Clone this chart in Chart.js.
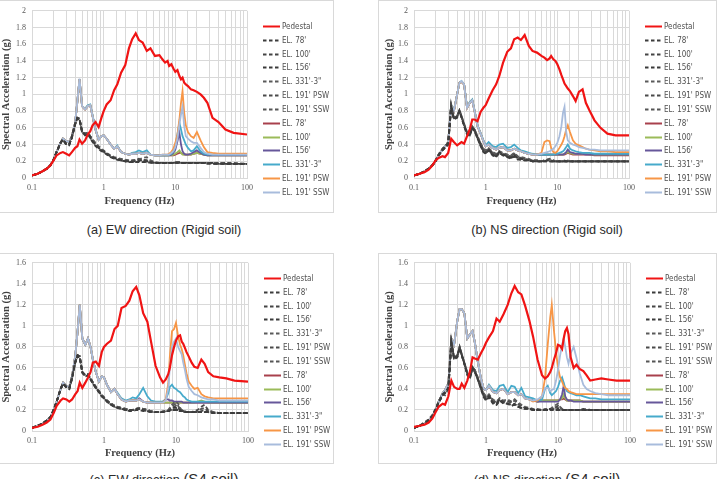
<!DOCTYPE html>
<html><head><meta charset="utf-8">
<script src="https://cdn.jsdelivr.net/npm/chart.js@4.4.1/dist/chart.umd.min.js"></script>
<style>
html,body{margin:0;padding:0;background:#fff}
body{width:721px;height:479px;overflow:hidden;position:relative;font-family:"Liberation Sans",Arial,sans-serif}
.box{position:absolute;border:1px solid #d9d9d9;box-sizing:border-box}
canvas{position:absolute}
.cap{position:absolute;width:320px;text-align:center;font-size:12.7px;line-height:16px;color:#2b2b2b;white-space:nowrap}
.cap span{font-size:15px}
</style></head><body>
<div class="box" style="left:-1px;top:0;width:335px;height:213px"></div>
<div class="box" style="left:378px;top:0;width:339px;height:213px"></div>
<div class="box" style="left:-1px;top:253px;width:335px;height:211px"></div>
<div class="box" style="left:378px;top:253px;width:339px;height:211px"></div>
<canvas id="cA" width="333" height="215" style="left:0;top:0;width:333px;height:215px"></canvas>
<canvas id="cB" width="338" height="215" style="left:378px;top:0;width:338px;height:215px"></canvas>
<canvas id="cC" width="333" height="215" style="left:0;top:252px;width:333px;height:215px"></canvas>
<canvas id="cD" width="338" height="215" style="left:378px;top:252px;width:338px;height:215px"></canvas>
<div class="cap" style="left:4px;top:222px">(a) EW direction (Rigid soil)</div>
<div class="cap" style="left:387px;top:222px">(b) NS direction (Rigid soil)</div>
<div class="cap" style="left:4px;top:471px">(c) EW direction <span>(S4 soil)</span></div>
<div class="cap" style="left:387px;top:471px">(d) NS direction <span>(S4 soil)</span></div>
<script>
// ---------- DATA ----------
const FREQ = [
0.1,0.12,0.14,0.16,0.18,0.2,0.22,0.25,
0.27,0.3,0.33,0.36,0.4,0.43,0.46,0.5,
0.55,0.6,0.65,0.7,0.77,0.85,0.93,1,
1.1,1.25,1.4,1.55,1.75,2,2.25,2.5,
2.8,3.1,3.5,4,4.5,5.2,6,6.6,
7.2,7.8,8.2,8.8,9.4,10,10.7,11.4,
12,12.6,13.3,14,15,16.5,18,20,
22.5,25,28,33,40,50,65,100];

const SERIES_LABELS = ["Pedestal","EL. 78'","EL. 100'","EL. 156'","EL. 331'-3\"","EL. 191' PSW","EL. 191' SSW","EL. 78'","EL. 100'","EL. 156'","EL. 331'-3\"","EL. 191' PSW","EL. 191' SSW"];
const X_TICK_VALUES = [0.1,1,10,100];
const X_TICK_LABELS = ["0.1","1","10","100"];
const Y_TICKS_RIGID = ["0","0.2","0.4","0.6","0.8","1","1.2","1.4","1.6","1.8","2"];
const Y_TICKS_S4 = ["0","0.2","0.4","0.6","0.8","1","1.2","1.4","1.6"];
const X_TITLE = "Frequency (Hz)";
const Y_TITLE = "Spectral Acceleration (g)";

// ----- (a) EW Rigid -----
const A_PED = [
0.03,0.05,0.08,0.11,0.15,0.21,0.27,0.30,
0.31,0.29,0.27,0.31,0.36,0.38,0.46,0.41,
0.45,0.52,0.56,0.63,0.67,0.61,0.72,0.80,
0.88,0.93,1.05,1.12,1.26,1.35,1.55,1.66,
1.73,1.65,1.62,1.52,1.55,1.46,1.47,1.42,
1.38,1.40,1.34,1.36,1.31,1.27,1.29,1.22,
1.18,1.20,1.14,1.12,1.10,1.06,1.05,1.03,
1.00,0.96,0.90,0.72,0.67,0.58,0.54,0.52];
const A_D78 = [
0.03,0.05,0.08,0.11,0.15,0.22,0.31,0.42,
0.46,0.40,0.39,0.48,0.64,0.72,0.70,0.55,
0.52,0.53,0.48,0.43,0.38,0.35,0.32,0.31,
0.28,0.25,0.23,0.22,0.21,0.20,0.19,0.19,
0.19,0.19,0.19,0.19,0.18,0.18,0.18,0.18,
0.18,0.18,0.18,0.18,0.18,0.18,0.18,0.18,
0.18,0.18,0.18,0.18,0.18,0.18,0.18,0.18,
0.18,0.18,0.17,0.17,0.17,0.17,0.17,0.17];
const A_D100 = [
0.03,0.05,0.08,0.11,0.15,0.22,0.31,0.42,
0.46,0.41,0.40,0.49,0.65,0.72,0.71,0.54,
0.52,0.53,0.49,0.44,0.39,0.36,0.33,0.31,
0.29,0.26,0.23,0.22,0.21,0.20,0.20,0.19,
0.19,0.20,0.20,0.19,0.19,0.18,0.18,0.18,
0.18,0.18,0.18,0.18,0.18,0.18,0.18,0.18,
0.18,0.18,0.18,0.18,0.18,0.18,0.18,0.18,
0.18,0.18,0.18,0.17,0.17,0.17,0.17,0.17];
const A_D156 = [
0.03,0.05,0.08,0.11,0.15,0.22,0.31,0.42,
0.46,0.40,0.40,0.48,0.64,0.71,0.70,0.55,
0.51,0.52,0.48,0.44,0.40,0.36,0.33,0.32,
0.29,0.26,0.24,0.23,0.21,0.20,0.20,0.20,
0.20,0.21,0.21,0.20,0.19,0.18,0.18,0.18,
0.18,0.18,0.18,0.18,0.18,0.18,0.18,0.18,
0.18,0.18,0.18,0.18,0.18,0.18,0.18,0.18,
0.18,0.18,0.18,0.18,0.17,0.17,0.17,0.17];
const A_D331 = [
0.03,0.05,0.08,0.11,0.15,0.22,0.31,0.42,
0.46,0.41,0.40,0.49,0.65,0.72,0.71,0.56,
0.53,0.54,0.50,0.46,0.42,0.38,0.35,0.33,
0.30,0.27,0.25,0.24,0.23,0.22,0.21,0.21,
0.21,0.22,0.24,0.25,0.21,0.19,0.18,0.18,
0.18,0.18,0.18,0.18,0.19,0.19,0.19,0.19,
0.18,0.18,0.18,0.18,0.18,0.18,0.18,0.18,
0.18,0.18,0.18,0.18,0.18,0.17,0.17,0.17];
const A_DPSW = [
0.03,0.05,0.08,0.11,0.15,0.22,0.31,0.42,
0.46,0.41,0.40,0.49,0.65,0.72,0.71,0.56,
0.53,0.54,0.50,0.46,0.41,0.37,0.34,0.32,
0.29,0.26,0.24,0.23,0.22,0.21,0.21,0.21,
0.22,0.23,0.22,0.21,0.19,0.18,0.18,0.18,
0.18,0.18,0.18,0.18,0.18,0.19,0.19,0.19,
0.18,0.18,0.18,0.18,0.18,0.18,0.18,0.18,
0.18,0.18,0.18,0.18,0.18,0.18,0.17,0.17];
const A_DSSW = [
0.03,0.05,0.08,0.11,0.15,0.22,0.31,0.42,
0.46,0.41,0.40,0.49,0.65,0.72,0.71,0.56,
0.53,0.54,0.50,0.45,0.41,0.37,0.34,0.32,
0.29,0.26,0.24,0.23,0.22,0.21,0.20,0.20,
0.21,0.22,0.22,0.21,0.19,0.18,0.18,0.18,
0.18,0.18,0.18,0.18,0.18,0.18,0.19,0.19,
0.18,0.18,0.18,0.18,0.18,0.18,0.18,0.18,
0.18,0.18,0.18,0.18,0.18,0.18,0.18,0.17];
const A_S78 = [
0.03,0.05,0.08,0.11,0.15,0.22,0.31,0.42,
0.47,0.44,0.43,0.50,0.66,0.92,1.18,0.86,
0.82,0.86,0.87,0.74,0.58,0.46,0.50,0.51,
0.47,0.40,0.35,0.38,0.31,0.29,0.28,0.29,
0.29,0.30,0.29,0.30,0.28,0.27,0.27,0.27,
0.27,0.27,0.27,0.27,0.27,0.28,0.29,0.30,
0.30,0.29,0.28,0.28,0.28,0.28,0.29,0.30,
0.29,0.28,0.27,0.27,0.27,0.27,0.27,0.27];
const A_S100 = [
0.03,0.05,0.08,0.11,0.15,0.22,0.31,0.42,
0.47,0.44,0.43,0.50,0.66,0.92,1.18,0.86,
0.82,0.86,0.87,0.74,0.58,0.46,0.50,0.51,
0.47,0.40,0.35,0.38,0.31,0.29,0.28,0.29,
0.29,0.30,0.29,0.30,0.28,0.27,0.27,0.27,
0.27,0.27,0.27,0.27,0.28,0.29,0.31,0.33,
0.30,0.28,0.28,0.28,0.28,0.28,0.29,0.30,
0.29,0.28,0.27,0.27,0.27,0.27,0.27,0.27];
const A_S156 = [
0.03,0.05,0.08,0.11,0.15,0.22,0.31,0.42,
0.47,0.44,0.43,0.50,0.66,0.92,1.18,0.86,
0.82,0.86,0.87,0.74,0.58,0.46,0.50,0.51,
0.47,0.40,0.35,0.38,0.31,0.29,0.28,0.29,
0.29,0.30,0.29,0.30,0.28,0.27,0.27,0.27,
0.27,0.27,0.27,0.28,0.30,0.34,0.44,0.54,
0.40,0.32,0.29,0.28,0.28,0.29,0.31,0.33,
0.30,0.28,0.27,0.27,0.27,0.27,0.27,0.27];
const A_S331 = [
0.03,0.05,0.08,0.11,0.15,0.22,0.31,0.42,
0.47,0.44,0.43,0.50,0.66,0.92,1.18,0.86,
0.83,0.87,0.88,0.75,0.58,0.46,0.50,0.51,
0.47,0.40,0.35,0.39,0.31,0.29,0.28,0.30,
0.31,0.33,0.31,0.33,0.28,0.27,0.27,0.27,
0.27,0.27,0.28,0.29,0.32,0.38,0.52,0.66,
0.58,0.50,0.45,0.40,0.36,0.32,0.33,0.38,
0.32,0.29,0.28,0.28,0.28,0.28,0.28,0.28];
const A_SPSW = [
0.03,0.05,0.08,0.11,0.15,0.22,0.31,0.42,
0.47,0.44,0.43,0.50,0.66,0.92,1.18,0.86,
0.82,0.86,0.87,0.74,0.58,0.46,0.50,0.51,
0.47,0.40,0.35,0.38,0.31,0.29,0.28,0.29,
0.29,0.30,0.29,0.30,0.28,0.27,0.27,0.28,
0.28,0.28,0.29,0.31,0.35,0.42,0.52,0.70,
0.90,1.04,0.78,0.63,0.55,0.50,0.48,0.55,
0.45,0.37,0.31,0.30,0.29,0.29,0.29,0.29];
const A_SSSW = [
0.03,0.05,0.08,0.11,0.15,0.22,0.31,0.42,
0.47,0.44,0.43,0.50,0.66,0.92,1.19,0.86,
0.82,0.86,0.87,0.74,0.58,0.46,0.50,0.51,
0.47,0.40,0.35,0.38,0.31,0.29,0.28,0.29,
0.29,0.30,0.29,0.30,0.28,0.27,0.27,0.28,
0.28,0.28,0.28,0.30,0.32,0.37,0.47,0.64,
0.76,0.85,0.62,0.50,0.47,0.44,0.42,0.42,
0.36,0.31,0.29,0.28,0.28,0.28,0.28,0.28];

// ----- (b) NS Rigid -----
const B_PED = [
0.03,0.05,0.07,0.10,0.15,0.21,0.24,0.26,
0.25,0.30,0.47,0.43,0.39,0.41,0.43,0.41,
0.50,0.58,0.70,0.70,0.68,0.79,0.84,0.87,
0.95,1.05,1.12,1.22,1.38,1.51,1.55,1.66,
1.68,1.65,1.71,1.58,1.52,1.50,1.46,1.44,
1.41,1.43,1.46,1.42,1.40,1.36,1.30,1.23,
1.18,1.13,1.10,1.07,1.04,0.98,0.92,1.03,
1.06,0.90,0.81,0.69,0.60,0.53,0.51,0.51];
const B_D78 = [
0.03,0.05,0.08,0.11,0.15,0.20,0.27,0.33,
0.36,0.40,0.84,0.70,0.72,0.80,0.72,0.62,
0.52,0.50,0.60,0.56,0.47,0.38,0.31,0.29,
0.33,0.27,0.25,0.30,0.27,0.25,0.23,0.26,
0.22,0.22,0.21,0.21,0.20,0.20,0.20,0.20,
0.20,0.20,0.20,0.20,0.20,0.20,0.20,0.20,
0.20,0.20,0.20,0.20,0.20,0.20,0.20,0.20,
0.20,0.20,0.20,0.20,0.20,0.20,0.20,0.20];
const B_D100 = [
0.03,0.05,0.08,0.11,0.15,0.20,0.27,0.33,
0.36,0.40,0.84,0.71,0.73,0.80,0.73,0.63,
0.53,0.51,0.60,0.56,0.48,0.39,0.32,0.30,
0.33,0.28,0.26,0.30,0.27,0.26,0.24,0.26,
0.23,0.22,0.21,0.21,0.20,0.20,0.20,0.20,
0.20,0.20,0.20,0.20,0.20,0.20,0.20,0.20,
0.20,0.20,0.20,0.20,0.20,0.20,0.20,0.20,
0.20,0.20,0.20,0.20,0.20,0.20,0.20,0.20];
const B_D156 = [
0.03,0.05,0.08,0.11,0.15,0.20,0.27,0.34,
0.37,0.41,0.85,0.71,0.73,0.80,0.73,0.63,
0.53,0.51,0.60,0.57,0.48,0.39,0.32,0.30,
0.34,0.28,0.26,0.31,0.28,0.26,0.24,0.27,
0.23,0.23,0.22,0.21,0.20,0.20,0.20,0.20,
0.21,0.21,0.20,0.20,0.20,0.20,0.20,0.20,
0.20,0.20,0.20,0.20,0.20,0.20,0.20,0.20,
0.20,0.20,0.20,0.20,0.20,0.20,0.20,0.20];
const B_D331 = [
0.03,0.05,0.08,0.11,0.15,0.21,0.28,0.35,
0.38,0.42,0.87,0.72,0.74,0.81,0.74,0.65,
0.55,0.53,0.62,0.58,0.50,0.42,0.35,0.33,
0.36,0.31,0.29,0.32,0.30,0.28,0.27,0.30,
0.26,0.25,0.24,0.23,0.21,0.21,0.20,0.21,
0.22,0.22,0.21,0.21,0.20,0.20,0.20,0.20,
0.20,0.20,0.20,0.21,0.20,0.20,0.20,0.20,
0.20,0.20,0.20,0.20,0.20,0.20,0.20,0.20];
const B_DPSW = [
0.03,0.05,0.08,0.11,0.15,0.21,0.28,0.35,
0.38,0.42,0.86,0.72,0.74,0.81,0.74,0.64,
0.54,0.52,0.61,0.58,0.49,0.41,0.34,0.32,
0.35,0.30,0.28,0.32,0.29,0.28,0.26,0.29,
0.25,0.24,0.23,0.22,0.21,0.21,0.20,0.21,
0.22,0.23,0.22,0.21,0.20,0.20,0.20,0.20,
0.20,0.20,0.20,0.20,0.20,0.20,0.20,0.20,
0.20,0.20,0.20,0.20,0.20,0.20,0.20,0.20];
const B_DSSW = [
0.03,0.05,0.08,0.11,0.15,0.21,0.28,0.35,
0.38,0.42,0.88,0.72,0.74,0.81,0.74,0.64,
0.54,0.52,0.61,0.58,0.49,0.41,0.34,0.32,
0.35,0.30,0.28,0.31,0.29,0.27,0.26,0.29,
0.25,0.24,0.23,0.22,0.21,0.20,0.20,0.20,
0.21,0.21,0.21,0.20,0.20,0.20,0.20,0.20,
0.20,0.21,0.20,0.20,0.20,0.20,0.20,0.20,
0.20,0.20,0.20,0.20,0.20,0.20,0.20,0.20];
const B_S78 = [
0.03,0.05,0.08,0.11,0.15,0.20,0.27,0.34,
0.37,0.43,0.87,0.80,1.00,1.14,1.15,1.12,
0.84,0.90,0.93,0.80,0.62,0.53,0.44,0.38,
0.40,0.36,0.34,0.36,0.37,0.33,0.33,0.35,
0.33,0.32,0.30,0.29,0.28,0.28,0.28,0.28,
0.28,0.28,0.28,0.28,0.28,0.28,0.28,0.28,
0.28,0.28,0.29,0.30,0.29,0.28,0.28,0.28,
0.28,0.28,0.28,0.27,0.27,0.27,0.27,0.27];
const B_S100 = [
0.03,0.05,0.08,0.11,0.15,0.20,0.27,0.34,
0.37,0.43,0.87,0.80,1.00,1.14,1.15,1.12,
0.84,0.90,0.93,0.80,0.62,0.53,0.44,0.38,
0.40,0.36,0.34,0.36,0.37,0.33,0.33,0.35,
0.33,0.32,0.30,0.29,0.28,0.28,0.28,0.28,
0.28,0.28,0.28,0.28,0.28,0.28,0.28,0.28,
0.28,0.29,0.30,0.31,0.30,0.29,0.29,0.29,
0.29,0.29,0.28,0.28,0.28,0.28,0.28,0.28];
const B_S156 = [
0.03,0.05,0.08,0.11,0.15,0.20,0.27,0.34,
0.37,0.43,0.87,0.80,1.00,1.14,1.15,1.12,
0.84,0.90,0.93,0.80,0.62,0.53,0.44,0.38,
0.40,0.36,0.34,0.36,0.37,0.33,0.33,0.35,
0.33,0.32,0.30,0.29,0.28,0.28,0.28,0.28,
0.28,0.28,0.28,0.28,0.28,0.28,0.28,0.28,
0.28,0.29,0.31,0.34,0.31,0.30,0.29,0.29,
0.29,0.28,0.28,0.28,0.28,0.28,0.28,0.28];
const B_S331 = [
0.03,0.05,0.08,0.11,0.15,0.20,0.27,0.34,
0.37,0.43,0.88,0.81,1.00,1.14,1.16,1.12,
0.85,0.91,0.94,0.81,0.63,0.54,0.45,0.39,
0.43,0.38,0.37,0.40,0.41,0.36,0.37,0.40,
0.36,0.33,0.32,0.30,0.29,0.28,0.28,0.28,
0.28,0.28,0.28,0.28,0.29,0.29,0.30,0.31,
0.32,0.34,0.37,0.40,0.35,0.33,0.32,0.31,
0.30,0.30,0.30,0.29,0.29,0.29,0.29,0.29];
const B_SPSW = [
0.03,0.05,0.08,0.11,0.15,0.20,0.27,0.34,
0.37,0.43,0.87,0.80,1.00,1.14,1.15,1.12,
0.84,0.90,0.93,0.80,0.62,0.53,0.44,0.38,
0.40,0.36,0.34,0.36,0.37,0.33,0.33,0.35,
0.33,0.32,0.30,0.29,0.28,0.28,0.30,0.43,
0.45,0.44,0.36,0.31,0.30,0.32,0.36,0.40,
0.44,0.50,0.58,0.63,0.55,0.45,0.41,0.39,
0.37,0.35,0.34,0.33,0.32,0.32,0.31,0.31];
const B_SSSW = [
0.03,0.05,0.08,0.11,0.15,0.20,0.27,0.34,
0.37,0.43,0.87,0.80,1.00,1.14,1.16,1.12,
0.84,0.90,0.93,0.80,0.62,0.53,0.44,0.38,
0.40,0.36,0.34,0.36,0.37,0.33,0.33,0.35,
0.33,0.32,0.30,0.29,0.28,0.28,0.29,0.30,
0.31,0.32,0.33,0.35,0.38,0.42,0.50,0.62,
0.78,0.85,0.55,0.45,0.42,0.40,0.39,0.37,
0.36,0.35,0.34,0.34,0.33,0.33,0.33,0.33];

// ----- (c) EW S4 -----
const C_PED = [
0.03,0.04,0.06,0.08,0.11,0.17,0.24,0.29,
0.31,0.30,0.28,0.30,0.35,0.38,0.46,0.41,
0.46,0.51,0.56,0.65,0.66,0.62,0.75,0.80,
0.83,0.86,0.97,1.00,1.17,1.19,1.24,1.33,
1.37,1.29,1.12,1.04,0.85,0.62,0.51,0.46,
0.49,0.54,0.60,0.72,0.80,0.86,0.90,0.91,
0.85,0.83,0.79,0.75,0.71,0.65,0.61,0.60,
0.68,0.64,0.56,0.52,0.51,0.50,0.48,0.47];
const C_D78 = [
0.03,0.05,0.07,0.10,0.13,0.20,0.28,0.40,
0.45,0.42,0.40,0.50,0.66,0.72,0.70,0.56,
0.52,0.53,0.49,0.45,0.41,0.37,0.33,0.31,
0.28,0.25,0.23,0.22,0.21,0.20,0.19,0.19,
0.20,0.20,0.19,0.19,0.18,0.18,0.18,0.18,
0.19,0.19,0.19,0.20,0.20,0.20,0.19,0.19,
0.19,0.18,0.18,0.18,0.18,0.18,0.18,0.18,
0.18,0.18,0.18,0.17,0.17,0.17,0.17,0.17];
const C_D100 = [
0.03,0.05,0.07,0.10,0.13,0.20,0.28,0.40,
0.45,0.42,0.41,0.50,0.66,0.72,0.71,0.56,
0.53,0.53,0.50,0.46,0.41,0.37,0.34,0.31,
0.28,0.25,0.23,0.22,0.21,0.20,0.19,0.20,
0.20,0.21,0.20,0.19,0.18,0.18,0.18,0.19,
0.19,0.19,0.20,0.20,0.20,0.20,0.20,0.19,
0.19,0.19,0.18,0.18,0.18,0.18,0.18,0.18,
0.19,0.20,0.18,0.17,0.17,0.17,0.17,0.17];
const C_D156 = [
0.03,0.05,0.07,0.10,0.13,0.20,0.28,0.40,
0.45,0.41,0.40,0.50,0.65,0.71,0.70,0.55,
0.52,0.53,0.49,0.45,0.41,0.37,0.33,0.31,
0.28,0.25,0.23,0.22,0.21,0.20,0.20,0.20,
0.21,0.21,0.20,0.19,0.18,0.18,0.18,0.18,
0.19,0.19,0.20,0.21,0.22,0.22,0.21,0.20,
0.19,0.19,0.18,0.18,0.18,0.18,0.18,0.18,
0.18,0.18,0.18,0.17,0.17,0.17,0.17,0.17];
const C_D331 = [
0.03,0.05,0.07,0.10,0.13,0.20,0.28,0.40,
0.45,0.42,0.41,0.51,0.66,0.72,0.71,0.56,
0.53,0.54,0.50,0.46,0.42,0.38,0.34,0.32,
0.29,0.26,0.24,0.23,0.22,0.21,0.20,0.20,
0.21,0.22,0.21,0.20,0.19,0.18,0.18,0.18,
0.19,0.20,0.22,0.25,0.27,0.28,0.26,0.22,
0.20,0.19,0.19,0.18,0.18,0.18,0.18,0.18,
0.18,0.18,0.18,0.18,0.17,0.17,0.17,0.17];
const C_DPSW = [
0.03,0.05,0.07,0.10,0.13,0.20,0.28,0.40,
0.45,0.42,0.41,0.51,0.66,0.72,0.71,0.56,
0.53,0.54,0.50,0.46,0.42,0.38,0.34,0.32,
0.29,0.26,0.24,0.23,0.22,0.21,0.20,0.20,
0.21,0.22,0.21,0.20,0.19,0.18,0.18,0.18,
0.19,0.19,0.20,0.21,0.23,0.24,0.22,0.20,
0.19,0.19,0.18,0.18,0.18,0.18,0.19,0.20,
0.23,0.25,0.20,0.18,0.17,0.17,0.17,0.17];
const C_DSSW = [
0.03,0.05,0.07,0.10,0.13,0.20,0.28,0.40,
0.45,0.42,0.41,0.51,0.66,0.72,0.71,0.56,
0.53,0.54,0.50,0.46,0.42,0.38,0.34,0.32,
0.29,0.26,0.24,0.23,0.22,0.21,0.20,0.20,
0.21,0.22,0.21,0.20,0.19,0.18,0.18,0.18,
0.19,0.20,0.21,0.23,0.25,0.26,0.24,0.21,
0.20,0.19,0.18,0.18,0.18,0.18,0.18,0.19,
0.21,0.22,0.19,0.18,0.17,0.17,0.17,0.17];
const C_S78 = [
0.03,0.05,0.07,0.10,0.13,0.20,0.28,0.40,
0.46,0.43,0.42,0.52,0.72,0.95,1.20,0.88,
0.82,0.88,0.80,0.68,0.56,0.47,0.52,0.51,
0.44,0.37,0.40,0.35,0.30,0.28,0.29,0.29,
0.29,0.30,0.28,0.27,0.27,0.27,0.27,0.27,
0.27,0.27,0.27,0.27,0.27,0.27,0.27,0.27,
0.27,0.27,0.27,0.27,0.27,0.27,0.27,0.27,
0.27,0.27,0.27,0.27,0.27,0.27,0.27,0.27];
const C_S100 = [
0.03,0.05,0.07,0.10,0.13,0.20,0.28,0.40,
0.46,0.43,0.42,0.52,0.72,0.95,1.20,0.88,
0.82,0.88,0.80,0.68,0.56,0.47,0.52,0.51,
0.44,0.37,0.40,0.35,0.30,0.28,0.29,0.29,
0.29,0.30,0.28,0.27,0.27,0.27,0.27,0.27,
0.27,0.27,0.27,0.27,0.27,0.27,0.27,0.27,
0.27,0.27,0.27,0.27,0.27,0.27,0.27,0.28,
0.29,0.28,0.27,0.27,0.27,0.27,0.27,0.27];
const C_S156 = [
0.03,0.05,0.07,0.10,0.13,0.20,0.28,0.40,
0.46,0.43,0.42,0.52,0.72,0.95,1.20,0.88,
0.82,0.88,0.80,0.68,0.56,0.47,0.52,0.51,
0.44,0.37,0.40,0.35,0.30,0.28,0.29,0.29,
0.29,0.31,0.28,0.27,0.27,0.27,0.27,0.28,
0.30,0.30,0.29,0.29,0.28,0.28,0.28,0.28,
0.28,0.27,0.27,0.27,0.27,0.27,0.27,0.27,
0.27,0.27,0.27,0.27,0.27,0.27,0.27,0.27];
const C_S331 = [
0.03,0.05,0.07,0.10,0.13,0.20,0.28,0.40,
0.46,0.43,0.42,0.52,0.72,0.95,1.20,0.88,
0.82,0.88,0.80,0.68,0.56,0.47,0.52,0.51,
0.44,0.37,0.40,0.36,0.31,0.29,0.30,0.32,
0.31,0.35,0.41,0.33,0.29,0.28,0.28,0.28,
0.30,0.36,0.42,0.44,0.41,0.40,0.38,0.37,
0.35,0.33,0.32,0.30,0.29,0.28,0.28,0.28,
0.28,0.28,0.28,0.28,0.28,0.28,0.28,0.28];
const C_SPSW = [
0.03,0.05,0.07,0.10,0.13,0.20,0.28,0.40,
0.46,0.43,0.42,0.52,0.72,0.95,1.20,0.88,
0.82,0.88,0.80,0.68,0.56,0.47,0.52,0.51,
0.44,0.37,0.40,0.35,0.30,0.28,0.29,0.29,
0.29,0.30,0.28,0.27,0.27,0.27,0.27,0.27,
0.30,0.45,0.70,0.95,0.97,1.03,0.90,0.82,
0.78,0.72,0.63,0.55,0.47,0.43,0.40,0.41,
0.35,0.33,0.32,0.31,0.31,0.31,0.31,0.31];
const C_SSSW = [
0.03,0.05,0.07,0.10,0.13,0.20,0.28,0.40,
0.46,0.43,0.42,0.52,0.72,0.95,1.20,0.88,
0.82,0.88,0.80,0.68,0.56,0.47,0.52,0.51,
0.44,0.37,0.40,0.35,0.30,0.28,0.29,0.29,
0.29,0.30,0.28,0.27,0.27,0.27,0.27,0.27,
0.29,0.40,0.60,0.80,0.85,0.88,0.80,0.76,
0.73,0.65,0.58,0.50,0.42,0.38,0.35,0.34,
0.32,0.31,0.30,0.30,0.29,0.29,0.29,0.29];

// ----- (d) NS S4 -----
const D_PED = [
0.04,0.05,0.06,0.08,0.12,0.18,0.23,0.26,
0.25,0.33,0.48,0.42,0.40,0.40,0.45,0.41,
0.48,0.57,0.70,0.69,0.68,0.74,0.79,0.84,
0.89,0.95,1.07,1.04,1.11,1.20,1.31,1.38,
1.32,1.30,1.19,1.05,0.90,0.68,0.53,0.50,
0.52,0.56,0.60,0.68,0.74,0.82,0.81,0.78,
0.88,0.95,0.98,0.92,0.70,0.60,0.63,0.59,
0.57,0.53,0.48,0.49,0.50,0.49,0.48,0.48];
const D_D78 = [
0.03,0.05,0.07,0.10,0.14,0.20,0.27,0.34,
0.37,0.40,0.83,0.68,0.70,0.79,0.72,0.64,
0.53,0.50,0.59,0.56,0.49,0.40,0.32,0.29,
0.32,0.26,0.25,0.29,0.26,0.26,0.24,0.25,
0.23,0.22,0.21,0.21,0.20,0.20,0.20,0.20,
0.20,0.21,0.20,0.20,0.20,0.20,0.20,0.20,
0.20,0.20,0.20,0.20,0.20,0.20,0.20,0.20,
0.21,0.20,0.20,0.20,0.20,0.20,0.20,0.20];
const D_D100 = [
0.03,0.05,0.07,0.10,0.14,0.20,0.27,0.34,
0.37,0.40,0.83,0.69,0.71,0.79,0.72,0.64,
0.54,0.51,0.59,0.56,0.49,0.40,0.33,0.30,
0.32,0.27,0.25,0.29,0.27,0.26,0.24,0.25,
0.23,0.22,0.21,0.21,0.20,0.20,0.20,0.20,
0.20,0.20,0.20,0.20,0.20,0.20,0.20,0.20,
0.20,0.20,0.20,0.20,0.20,0.20,0.20,0.20,
0.20,0.21,0.20,0.20,0.20,0.20,0.20,0.20];
const D_D156 = [
0.03,0.05,0.07,0.10,0.14,0.20,0.27,0.34,
0.37,0.41,0.84,0.69,0.71,0.79,0.72,0.64,
0.54,0.51,0.60,0.57,0.49,0.41,0.33,0.30,
0.33,0.27,0.26,0.30,0.27,0.26,0.25,0.26,
0.23,0.22,0.22,0.21,0.20,0.20,0.20,0.20,
0.20,0.20,0.20,0.21,0.21,0.21,0.20,0.20,
0.20,0.20,0.20,0.20,0.20,0.20,0.20,0.20,
0.20,0.20,0.20,0.20,0.20,0.20,0.20,0.20];
const D_D331 = [
0.03,0.05,0.08,0.11,0.15,0.21,0.28,0.35,
0.34,0.40,0.86,0.70,0.72,0.80,0.73,0.65,
0.56,0.53,0.61,0.58,0.51,0.43,0.36,0.33,
0.35,0.30,0.28,0.31,0.29,0.30,0.28,0.30,
0.27,0.25,0.23,0.22,0.21,0.21,0.20,0.21,
0.21,0.21,0.22,0.23,0.25,0.26,0.23,0.21,
0.20,0.20,0.20,0.20,0.20,0.20,0.20,0.20,
0.20,0.20,0.20,0.20,0.20,0.20,0.20,0.20];
const D_DPSW = [
0.03,0.05,0.08,0.11,0.15,0.21,0.28,0.35,
0.36,0.40,0.85,0.70,0.72,0.80,0.73,0.65,
0.55,0.52,0.61,0.58,0.50,0.42,0.35,0.32,
0.34,0.29,0.27,0.31,0.28,0.29,0.28,0.30,
0.26,0.24,0.22,0.21,0.21,0.20,0.20,0.20,
0.21,0.21,0.21,0.22,0.23,0.24,0.22,0.21,
0.20,0.20,0.20,0.20,0.20,0.20,0.20,0.20,
0.20,0.20,0.20,0.20,0.20,0.20,0.20,0.20];
const D_DSSW = [
0.03,0.05,0.08,0.11,0.15,0.21,0.28,0.35,
0.36,0.40,0.86,0.70,0.72,0.80,0.73,0.65,
0.55,0.52,0.61,0.58,0.50,0.42,0.35,0.32,
0.34,0.29,0.27,0.30,0.28,0.28,0.27,0.29,
0.25,0.24,0.22,0.21,0.21,0.20,0.20,0.20,
0.20,0.21,0.21,0.21,0.22,0.22,0.21,0.20,
0.20,0.20,0.20,0.20,0.20,0.20,0.20,0.20,
0.20,0.20,0.20,0.20,0.20,0.20,0.20,0.20];
const D_S78 = [
0.03,0.05,0.07,0.10,0.14,0.20,0.28,0.36,
0.39,0.45,0.88,0.82,1.05,1.16,1.16,1.12,
0.88,0.92,0.95,0.84,0.66,0.50,0.40,0.39,
0.43,0.37,0.36,0.39,0.40,0.35,0.37,0.37,
0.34,0.35,0.31,0.30,0.29,0.28,0.29,0.29,
0.29,0.29,0.29,0.29,0.29,0.29,0.30,0.30,
0.31,0.30,0.29,0.29,0.29,0.29,0.29,0.29,
0.28,0.28,0.28,0.28,0.28,0.28,0.28,0.28];
const D_S100 = [
0.03,0.05,0.07,0.10,0.14,0.20,0.28,0.36,
0.39,0.45,0.88,0.82,1.05,1.16,1.16,1.12,
0.88,0.92,0.95,0.84,0.66,0.50,0.40,0.39,
0.43,0.37,0.36,0.39,0.40,0.35,0.37,0.37,
0.34,0.35,0.31,0.30,0.29,0.28,0.29,0.29,
0.29,0.29,0.29,0.29,0.29,0.29,0.30,0.31,
0.35,0.31,0.29,0.29,0.29,0.29,0.29,0.29,
0.28,0.28,0.28,0.28,0.28,0.28,0.28,0.28];
const D_S156 = [
0.03,0.05,0.07,0.10,0.14,0.20,0.28,0.36,
0.39,0.45,0.88,0.82,1.05,1.16,1.16,1.12,
0.88,0.92,0.95,0.84,0.66,0.50,0.40,0.39,
0.43,0.37,0.36,0.39,0.40,0.35,0.37,0.37,
0.34,0.35,0.31,0.30,0.29,0.28,0.28,0.28,
0.28,0.28,0.28,0.28,0.28,0.28,0.30,0.35,
0.43,0.33,0.30,0.29,0.29,0.28,0.28,0.28,
0.28,0.28,0.28,0.28,0.28,0.28,0.28,0.28];
const D_S331 = [
0.03,0.05,0.07,0.10,0.14,0.20,0.28,0.36,
0.39,0.45,0.88,0.82,1.05,1.16,1.16,1.12,
0.88,0.92,0.95,0.84,0.66,0.50,0.40,0.39,
0.44,0.39,0.38,0.43,0.44,0.37,0.43,0.42,
0.36,0.41,0.33,0.32,0.31,0.29,0.30,0.40,
0.43,0.36,0.34,0.36,0.38,0.42,0.48,0.51,
0.46,0.41,0.38,0.37,0.36,0.35,0.34,0.34,
0.33,0.32,0.31,0.31,0.30,0.30,0.30,0.30];
const D_SPSW = [
0.03,0.05,0.07,0.10,0.14,0.20,0.28,0.36,
0.39,0.45,0.88,0.82,1.05,1.16,1.16,1.12,
0.88,0.92,0.95,0.84,0.66,0.50,0.40,0.39,
0.43,0.37,0.36,0.39,0.40,0.35,0.37,0.37,
0.34,0.35,0.31,0.30,0.28,0.29,0.33,0.50,
0.82,1.08,1.20,0.95,0.75,0.60,0.51,0.47,
0.43,0.41,0.40,0.38,0.37,0.36,0.35,0.35,
0.35,0.35,0.35,0.35,0.35,0.35,0.35,0.35];
const D_SSSW = [
0.03,0.05,0.07,0.10,0.14,0.20,0.28,0.36,
0.39,0.45,0.88,0.82,1.05,1.16,1.16,1.12,
0.88,0.92,0.95,0.84,0.66,0.50,0.40,0.39,
0.43,0.37,0.36,0.39,0.40,0.35,0.37,0.37,
0.34,0.35,0.31,0.30,0.29,0.30,0.33,0.41,
0.41,0.38,0.39,0.40,0.48,0.58,0.72,0.82,
0.88,0.80,0.70,0.64,0.74,0.80,0.70,0.55,
0.44,0.40,0.38,0.36,0.35,0.34,0.34,0.34];

// ---------- STYLES ----------
const COLORS = ['#f01414','#3c3c3c','#444444','#3a3a3a','#5a5a5a','#4a4a4a','#555555','#a8404c','#9bbb59','#66579a','#46aacb','#f79646','#a8bcdc'];
const DASHED = [false,true,true,true,true,true,true,false,false,false,false,false,false];
const ORDER = [0,1,1,1,1,1,1,7,6,5,4,3,2];

const sideLegend = {
  id: 'sideLegend',
  afterDraw(chart, args, opts) {
    const {ctx, chartArea} = chart;
    const x0 = chartArea.right + opts.gap;
    ctx.save();
    ctx.font = opts.font;
    ctx.textBaseline = 'middle';
    chart.data.datasets.forEach((ds, i) => {
      const y = Math.round(chartArea.top + opts.top + i * opts.step) + 0.5;
      ctx.beginPath();
      ctx.setLineDash(ds.borderDash && ds.borderDash.length ? [3.5, 2.5] : []);
      ctx.strokeStyle = ds.borderColor;
      ctx.lineWidth = 2;
      ctx.moveTo(x0, y); ctx.lineTo(x0 + opts.len, y);
      ctx.stroke();
      ctx.setLineDash([]);
      ctx.fillStyle = '#505050';
      ctx.fillText(ds.label, x0 + opts.len + 2, y);
    });
    ctx.restore();
  }
};

function makeChart(id, series, cfg) {
  const canvas = document.getElementById(id);
  const W = canvas.width, H = canvas.height;
  const datasets = series.map((vals, i) => ({
    label: SERIES_LABELS[i],
    data: vals,
    borderColor: COLORS[i],
    backgroundColor: COLORS[i],
    borderWidth: i === 0 ? 2.2 : 1.8,
    borderDash: DASHED[i] ? [4, 2.5] : [],
    pointRadius: 0,
    tension: 0,
    fill: false,
    order: ORDER[i]
  }));
  const tickFont = {family: '"Liberation Serif","DejaVu Serif",serif', size: 8};
  const titleFont = {family: '"Liberation Serif","DejaVu Serif",serif', size: 10.5, weight: 'bold'};
  new Chart(canvas, {
    type: 'line',
    data: {labels: FREQ, datasets},
    plugins: [sideLegend],
    options: {
      responsive: false,
      animation: false,
      events: [],
      layout: {padding: {left: cfg.padL, top: cfg.top, right: W - cfg.right, bottom: 0}},
      plugins: {
        legend: {display: false},
        tooltip: {enabled: false},
        sideLegend: {gap: 16, len: 17, top: 15, step: 13.85, font: '8px "Liberation Sans Narrow","DejaVu Sans Condensed","Liberation Sans",Arial,sans-serif'}
      },
      scales: {
        x: {
          type: 'logarithmic', min: 0.1, max: 100,
          afterFit: s => { s.height = H - cfg.bottom; },
          grid: {color: '#d9d9d9', lineWidth: 1, drawTicks: false},
          border: {color: '#d9d9d9'},
          ticks: {
            autoSkip: false, maxRotation: 0, minRotation: 0, padding: 5,
            color: '#595959', font: tickFont,
            callback: v => {
              const k = X_TICK_VALUES.findIndex(t => Math.abs(v - t) / t < 1e-6);
              return k >= 0 ? X_TICK_LABELS[k] : '';
            }
          },
          title: {display: true, text: X_TITLE, color: '#404040', font: titleFont, padding: {top: 0, bottom: 7.7}}
        },
        y: {
          min: 0, max: cfg.yMax,
          afterFit: s => { s.width = cfg.left - cfg.padL; },
          grid: {color: '#d9d9d9', lineWidth: 1, drawTicks: false},
          border: {color: '#d9d9d9'},
          ticks: {
            stepSize: 0.2, padding: 6, color: '#595959', font: tickFont,
            callback: (v, i) => cfg.yLabels[i]
          },
          title: {display: true, text: Y_TITLE, color: '#404040', font: titleFont, padding: {top: 0, bottom: 0}}
        }
      }
    }
  });
}

makeChart('cA', [A_PED,A_D78,A_D100,A_D156,A_D331,A_DPSW,A_DSSW,A_S78,A_S100,A_S156,A_S331,A_SPSW,A_SSSW],
  {left: 32, right: 247, top: 8, bottom: 178, padL: 0, yMax: 2, yLabels: Y_TICKS_RIGID});
makeChart('cB', [B_PED,B_D78,B_D100,B_D156,B_D331,B_DPSW,B_DSSW,B_S78,B_S100,B_S156,B_S331,B_SPSW,B_SSSW],
  {left: 36, right: 251, top: 8, bottom: 178, padL: 5, yMax: 2, yLabels: Y_TICKS_RIGID});
makeChart('cC', [C_PED,C_D78,C_D100,C_D156,C_D331,C_DPSW,C_DSSW,C_S78,C_S100,C_S156,C_S331,C_SPSW,C_SSSW],
  {left: 32, right: 248, top: 8, bottom: 179, padL: 0, yMax: 1.6, yLabels: Y_TICKS_S4});
makeChart('cD', [D_PED,D_D78,D_D100,D_D156,D_D331,D_DPSW,D_DSSW,D_S78,D_S100,D_S156,D_S331,D_SPSW,D_SSSW],
  {left: 36, right: 252, top: 8, bottom: 179, padL: 5, yMax: 1.6, yLabels: Y_TICKS_S4});
</script>
</body></html>
